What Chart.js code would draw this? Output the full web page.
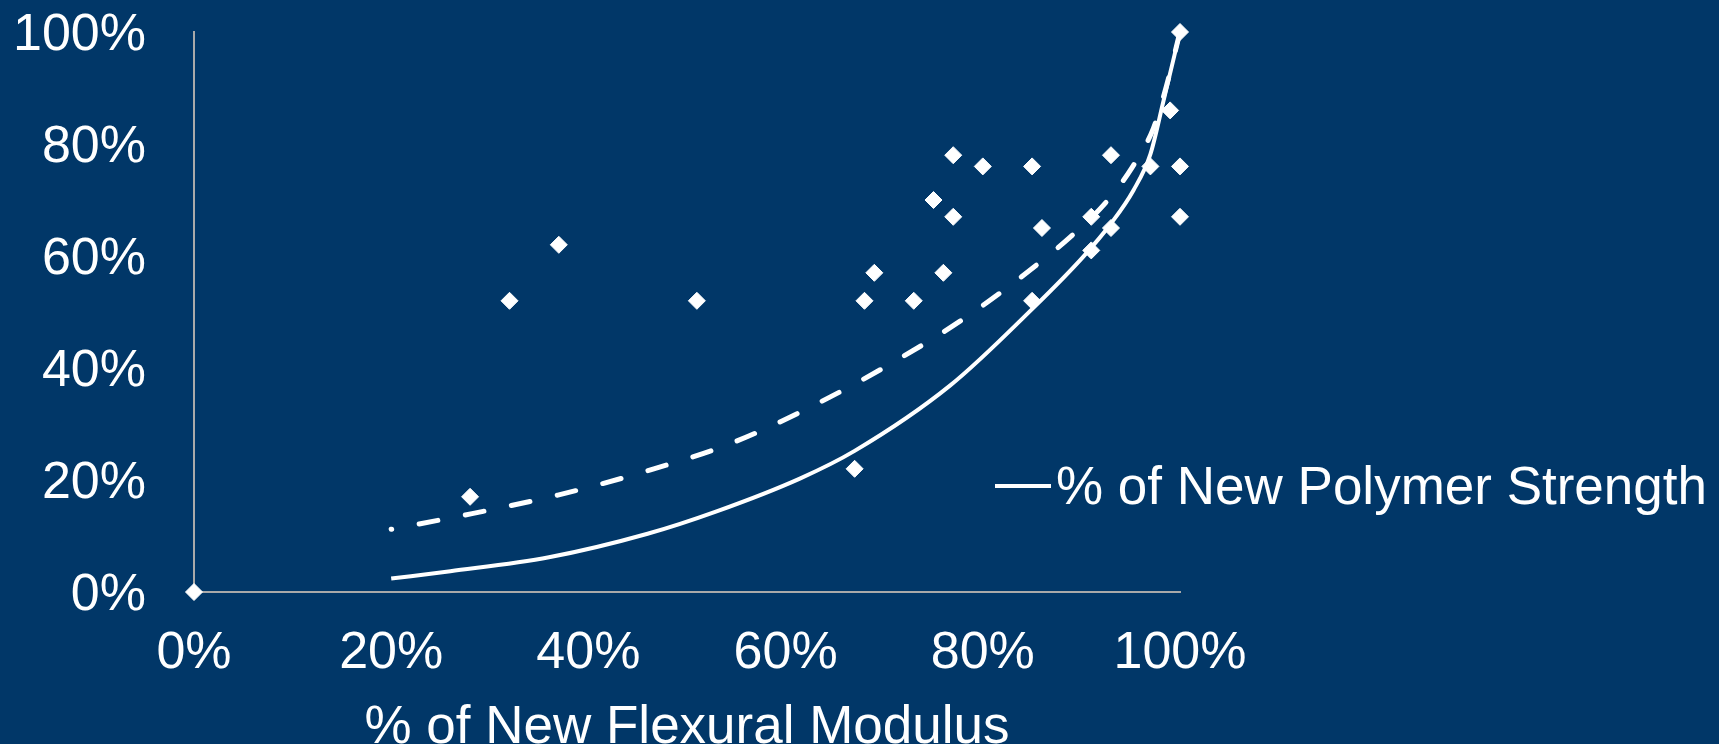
<!DOCTYPE html>
<html lang="en">
  <head>
    <meta charset="UTF-8" />
    <title>Flexural Modulus vs Polymer Strength</title>
    <script src="https://cdn.jsdelivr.net/npm/chart.js"></script>
    <style>
      html,
      body {
        margin: 0;
        padding: 0;
        background: #013768;
        overflow: hidden;
      }
    </style>
  </head>
  <body>
    <canvas id="chart" width="1719" height="744"></canvas>

    <script>
      // measured samples: % of new flexural modulus (x), % of new polymer strength (y)
      const sampleX = [0, 28, 32, 37, 51, 67, 68, 69, 73, 75, 76, 77, 77, 80, 85, 85, 86, 91, 91, 93, 93, 97, 99, 100, 100, 100];
      const sampleY = [0, 17, 52, 62, 52, 22, 52, 57, 52, 70, 57, 78, 67, 76, 76, 52, 65, 67, 61, 78, 65, 76, 86, 100, 76, 67];

      // solid curve (% of new polymer strength)
      const solidX = [20, 26, 36, 46, 53, 61.5, 67, 76.7, 85.1, 90.2, 93, 95.3, 97, 98.3, 100];
      const solidY = [2.4, 3.7, 6.2, 10.4, 14.4, 20.3, 25.2, 36.9, 50.7, 59.9, 65.8, 71.8, 78.2, 87.5, 100];

      // dashed curve
      const dashX = [20, 28.2, 36.9, 45.7, 54.4, 62.6, 70.6, 78.4, 85.6, 89.2, 92.4, 95.1, 97.3, 98.6, 100];
      const dashY = [11.2, 14, 17.3, 21.5, 26.5, 33.1, 40.7, 49.2, 58.6, 63.9, 69.4, 75.7, 82.8, 90.2, 100];

      const xTicks = [0, 20, 40, 60, 80, 100];
      const yTicks = [0, 20, 40, 60, 80, 100];
      const xTitle = "% of New Flexural Modulus";
      const legendLabel = "% of New Polymer Strength";

      const FONT = '"Liberation Sans", Arial, sans-serif';
      const WHITE = "#ffffff";
      const AXIS = "#a9a9a9";

      function toPoints(xs, ys) {
        return xs.map((x, i) => ({ x: x, y: ys[i] }));
      }

      // legend sits over the plot, like the original slide
      const sideLegend = {
        id: "sideLegend",
        afterDraw(chart) {
          const ctx = chart.ctx;
          ctx.save();
          ctx.strokeStyle = WHITE;
          ctx.lineWidth = 4;
          ctx.beginPath();
          ctx.moveTo(995, 486);
          ctx.lineTo(1051, 486);
          ctx.stroke();
          ctx.fillStyle = WHITE;
          ctx.font = "53px " + FONT;
          ctx.textBaseline = "alphabetic";
          ctx.fillText(legendLabel, 1056, 504);
          ctx.restore();
        },
      };

      const ctx = document.getElementById("chart").getContext("2d");
      const chart = new Chart(ctx, {
        type: "scatter",
        data: {
          datasets: [
            {
              label: "Samples",
              data: toPoints(sampleX, sampleY),
              pointStyle: "rectRot",
              pointRadius: 8.5,
              pointBackgroundColor: WHITE,
              pointBorderColor: WHITE,
              pointBorderWidth: 1,
              clip: false,
            },
            {
              label: legendLabel,
              data: toPoints(solidX, solidY),
              showLine: true,
              borderColor: WHITE,
              borderWidth: 4,
              pointRadius: 0,
              cubicInterpolationMode: "monotone",
              clip: false,
            },
            {
              label: "Dashed",
              data: toPoints(dashX, dashY),
              showLine: true,
              borderColor: WHITE,
              borderWidth: 5,
              borderDash: [19, 28],
              borderDashOffset: 18.5,
              borderCapStyle: "round",
              pointRadius: 0,
              cubicInterpolationMode: "monotone",
              clip: false,
            },
          ],
        },
        options: {
          responsive: false,
          animation: false,
          devicePixelRatio: 1,
          layout: { padding: { left: 0, top: 32, right: 539, bottom: 0 } },
          plugins: {
            legend: { display: false },
            tooltip: { enabled: false },
          },
          scales: {
            x: {
              type: "linear",
              min: 0,
              max: 100,
              afterBuildTicks: (s) => {
                s.ticks = xTicks.map((v) => ({ value: v }));
              },
              afterFit: (s) => {
                s.height = 152;
                s.paddingLeft = 0;
                s.paddingRight = 0;
              },
              grid: { display: false, drawTicks: false },
              border: { display: true, color: AXIS, width: 2 },
              ticks: {
                color: WHITE,
                padding: 30,
                font: { family: FONT, size: 52 },
                maxRotation: 0,
                callback: (v) => v + "%",
              },
              title: {
                display: true,
                text: xTitle,
                color: WHITE,
                font: { family: FONT, size: 53, lineHeight: 1 },
                padding: { top: 0, bottom: -11 },
              },
            },
            y: {
              type: "linear",
              min: 0,
              max: 100,
              afterBuildTicks: (s) => {
                s.ticks = yTicks.map((v) => ({ value: v }));
              },
              afterFit: (s) => {
                s.width = 194;
                s.paddingTop = 0;
                s.paddingBottom = 0;
              },
              grid: { display: false, drawTicks: false },
              border: { display: true, color: AXIS, width: 2 },
              ticks: {
                color: WHITE,
                padding: 48,
                labelOffset: 4,
                font: { family: FONT, size: 52 },
                callback: (v) => v + "%",
              },
            },
          },
        },
        plugins: [sideLegend],
      });
    </script>
  </body>
</html>
